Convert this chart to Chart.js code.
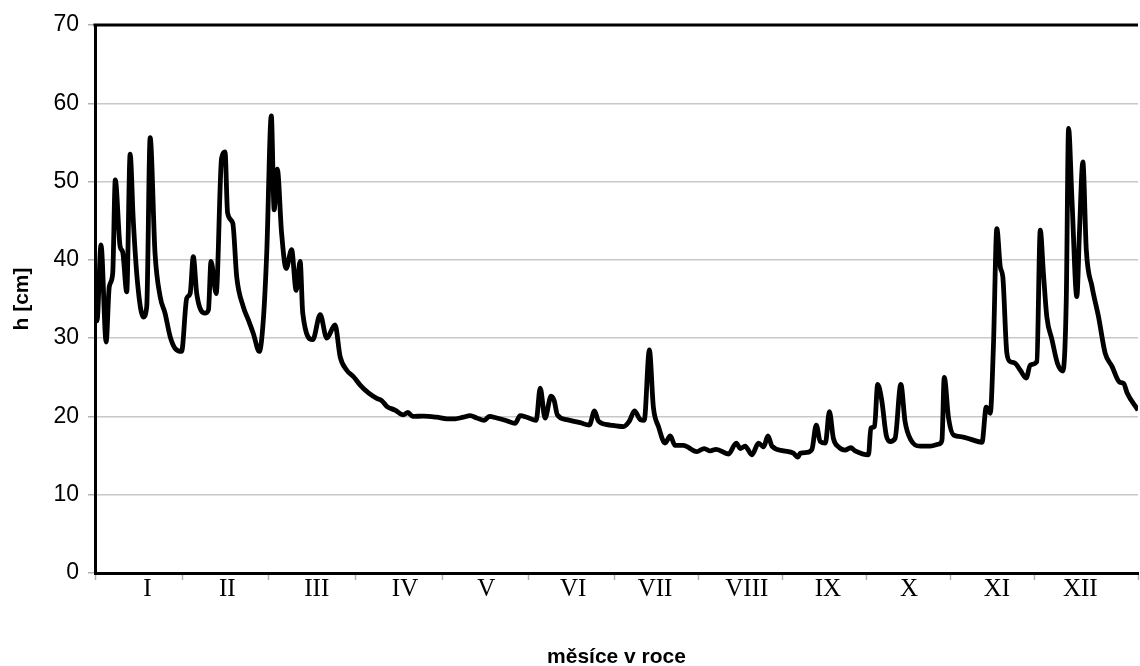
<!DOCTYPE html>
<html>
<head>
<meta charset="utf-8">
<script src="https://cdn.jsdelivr.net/npm/chart.js@4.4.1/dist/chart.umd.min.js"></script>
<style>
  body { margin: 0; background: #fff; }
  #wrap { width: 1140px; height: 666px; }
</style>
</head>
<body>
<div id="wrap"><canvas id="levelChart"></canvas></div>
<script>
// day of year (0-365) and water level h [cm]
const days = [
  0, 0.7, 2.1, 3.9, 5.0, 6.2, 7.1, 8.8, 9.7, 11.1, 12.3, 13.4, 14.9, 16.9, 18.1, 19.3,
  21.0, 22.8, 24.5, 26.3, 28.0, 30.3, 32.1, 33.3, 34.4, 35.6, 38.5, 39.7, 40.6, 42.4,
  44.3, 45.5, 46.4, 48.2, 49.6, 51.9, 53.7, 55.4, 57.5, 58.9, 60.1, 61.7, 62.7, 63.8,
  65.3, 66.9, 68.8, 70.4, 71.8, 72.7, 76.2, 78.8, 81.1, 84.0, 85.8, 88.1, 90.4, 92.8,
  95.7, 98.6, 100.4, 102.1, 105.0, 107.9, 109.5, 111.2, 114.9, 119.6, 123.1, 126.0,
  128.9, 131.3, 133.6, 136.2, 138.0, 140.6, 144.1, 147.0, 148.8, 151.1, 154.4, 155.8,
  157.5, 159.6, 160.7, 161.8, 165.1, 169.8, 173.0, 174.8, 176.2, 180.3, 184.9, 187.0,
  188.8, 190.8, 192.2, 194.0, 195.4, 197.2, 199.5, 201.3, 203.0, 205.9, 210.6, 213.2,
  215.3, 217.4, 221.7, 224.4, 225.8, 227.5, 229.9, 232.2, 234.0, 235.5, 236.9, 241.0,
  244.4, 246.0, 246.8, 249.1, 250.9, 252.4, 253.8, 255.6, 257.0, 258.4, 260.2, 262.5,
  264.5, 266.0, 270.7, 271.5, 272.8, 273.9, 275.3, 276.9, 278.3, 280.0, 282.0, 283.5,
  285.5, 288.8, 292.3, 295.5, 296.4, 297.2, 298.7, 300.5, 303.4, 306.3, 310.4, 311.9,
  313.3, 314.4, 315.6, 316.8, 317.7, 319.1, 320.3, 322.0, 323.8, 325.9, 327.3, 329.6,
  330.8, 331.9, 333.1, 334.9, 336.8, 338.7, 339.9, 340.7, 341.9, 343.6, 344.5, 345.7,
  346.9, 348.9, 351.2, 353.5, 355.9, 358.5, 360.0, 361.2, 365
];
const levels = [
  36.0, 32.2, 41.9, 29.5, 36.6, 38.3, 50.2, 41.7, 41.0, 35.9, 53.5, 45.0, 37.0, 32.7, 34.0, 55.6,
  40.9, 35.3, 33.2, 30.2, 28.7, 28.3, 35.1, 35.7, 40.4, 35.7, 33.2, 33.6, 39.8, 35.7,
  53.0, 53.8, 46.0, 44.7, 37.8, 34.0, 32.3, 30.6, 28.3, 32.3, 40.9, 58.4, 46.4, 51.6,
  43.4, 38.9, 41.3, 36.1, 39.8, 33.2, 29.8, 33.0, 30.0, 31.7, 27.6, 25.9, 25.1, 24.0,
  23.0, 22.3, 22.0, 21.3, 20.8, 20.2, 20.5, 20.0, 20.05, 19.9, 19.7, 19.7,
  19.9, 20.1, 19.8, 19.5, 20.0, 19.8, 19.45, 19.1, 20.1, 19.9, 19.5, 23.6,
  19.8, 22.6, 22.0, 20.2, 19.6, 19.2, 18.9, 20.7, 19.4, 18.9, 18.7, 19.4,
  20.7, 19.6, 19.5, 28.5, 21.2, 18.7, 16.6, 17.5, 16.3, 16.3, 15.5, 15.9,
  15.6, 15.8, 15.2, 16.6, 15.9, 16.2, 15.1, 16.6, 16.1, 17.5, 16.2, 15.6,
  15.3, 14.8, 15.3, 15.4, 15.8, 18.9, 16.8, 16.6, 20.6, 17.2, 16.1, 15.7,
  16.0, 15.6, 15.1, 18.5, 18.7, 24.1, 22.1, 17.6, 16.8, 17.2, 24.1, 19.3,
  17.0, 16.2, 16.2, 16.5, 17.0, 25.0, 19.8, 17.6, 17.4, 17.1, 16.7, 21.2,
  20.4, 28.9, 44.0, 39.1, 37.8, 28.1, 27.0, 26.8, 25.9, 24.9, 26.6, 27.0,
  43.8, 38.3, 32.7, 29.8, 26.8, 25.8, 34.9, 56.8, 47.6, 35.3, 43.4, 52.5,
  41.3, 36.6, 32.7, 28.1, 26.4, 24.4, 24.2, 23.0, 20.8
];

// month boundaries and label centres (in days), as placed on the original axis
const monthTicks = [0, 30.5, 60.8, 91, 121.5, 151.8, 181.9, 211.1, 240.7, 269.9, 299.3, 328.7, 365];
const monthLabelDays = [18.3, 46.3, 77.6, 108.5, 136.9, 167.3, 196, 228.1, 256.5, 284.9, 315.6, 344.8];
const monthNames = ["I", "II", "III", "IV", "V", "VI", "VII", "VIII", "IX", "X", "XI", "XII"];
const yTicks = [0, 10, 20, 30, 40, 50, 60, 70];

const sans = "'Liberation Sans', Arial, sans-serif";
const serif = "'Liberation Serif', 'Times New Roman', serif";

// black line along the top of the plot area
const topFrame = {
  id: "topFrame",
  afterDraw(chart) {
    const { ctx, chartArea } = chart;
    ctx.save();
    ctx.strokeStyle = "#000";
    ctx.lineWidth = 3;
    ctx.beginPath();
    ctx.moveTo(chartArea.left - 1.5, chartArea.top);
    ctx.lineTo(chartArea.right, chartArea.top);
    ctx.stroke();
    ctx.restore();
  },
};

const ctx = document.getElementById("levelChart").getContext("2d");
new Chart(ctx, {
  type: "line",
  data: {
    datasets: [
      {
        data: days.map((d, i) => ({ x: d, y: levels[i] })),
        borderColor: "#000",
        borderWidth: 4.8,
        pointRadius: 0,
        cubicInterpolationMode: "monotone",
        fill: false,
      },
    ],
  },
  options: {
    responsive: true,
    maintainAspectRatio: false,
    animation: false,
    layout: { padding: { top: 25, right: 2, left: 0, bottom: 0 } },
    plugins: { legend: { display: false }, tooltip: { enabled: false } },
    scales: {
      x: {
        type: "linear",
        position: "bottom",
        weight: 0,
        min: 0,
        max: 365,
        afterBuildTicks: (scale) => {
          scale.ticks = monthTicks.map((v) => ({ value: v }));
        },
        afterFit: (scale) => {
          scale.height = 1;
        },
        ticks: { display: false },
        grid: {
          drawOnChartArea: false,
          tickLength: 7,
          tickColor: "#b0b0b0",
          tickWidth: 1.5,
        },
        border: { color: "#000", width: 3 },
      },
      xl: {
        type: "linear",
        position: "bottom",
        weight: 1,
        min: 0,
        max: 365,
        afterBuildTicks: (scale) => {
          scale.ticks = monthLabelDays.map((v) => ({ value: v }));
        },
        afterFit: (scale) => {
          scale.height = 92;
        },
        ticks: {
          autoSkip: false,
          maxRotation: 0,
          padding: 0,
          color: "#000",
          font: { family: serif, size: 25 },
          callback: (v, i) => monthNames[i],
        },
        grid: { display: false, drawTicks: false },
        border: { display: false },
        title: {
          display: true,
          text: "měsíce v roce",
          color: "#000",
          font: { family: sans, size: 21, weight: "bold" },
          padding: { top: 0, bottom: -4 },
        },
      },
      y: {
        min: 0,
        max: 70,
        afterBuildTicks: (scale) => {
          scale.ticks = yTicks.map((v) => ({ value: v }));
        },
        afterFit: (scale) => {
          scale.width = 95;
        },
        ticks: {
          padding: 9,
          color: "#000",
          font: { family: sans, size: 23 },
        },
        grid: {
          color: "#c8c8c8",
          lineWidth: 1.5,
          tickLength: 7,
          tickColor: "#b0b0b0",
        },
        border: { color: "#000", width: 3 },
        title: {
          display: true,
          text: "h [cm]",
          color: "#000",
          font: { family: sans, size: 21, weight: "bold" },
          padding: { top: 10, bottom: 0 },
        },
      },
    },
  },
  plugins: [topFrame],
});
</script>
</body>
</html>
